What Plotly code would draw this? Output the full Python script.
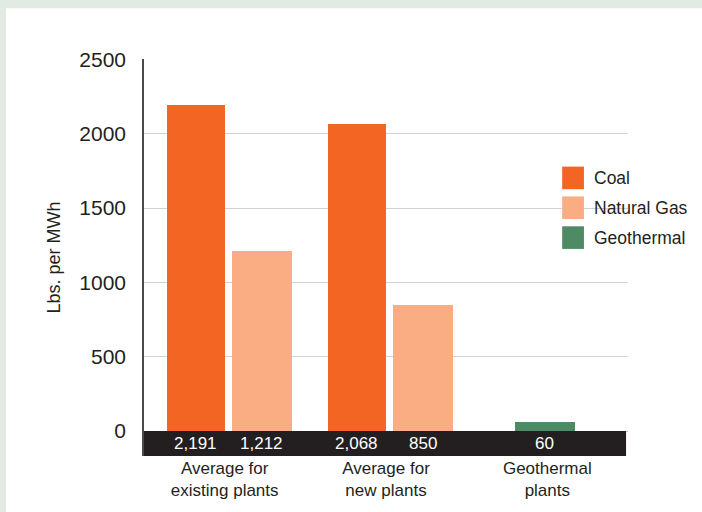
import plotly.graph_objects as go

categories = ["Average for<br>existing plants", "Average for<br>new plants", "Geothermal<br>plants"]
series_names = ["Coal", "Natural Gas", "Geothermal"]
coal = [2191, 2068, None]
natural_gas = [1212, 850, None]
geothermal = [None, None, 60]
y_ticks = [0, 500, 1000, 1500, 2000, 2500]

colors = ["#F26522", "#FAAC82", "#4E8A63"]
series_values = [coal, natural_gas, geothermal]
offsets = [-0.36, 0.045, -0.2]
widths = [0.36, 0.37, 0.37]

FONT = "Liberation Sans, Arial, sans-serif"
TXT = "#231F20"
BAND = "#231F20"
BAND_DEPTH = 168

fig = go.Figure()
for name, vals, col, off, w in zip(series_names, series_values, colors, offsets, widths):
    fig.add_trace(go.Bar(
        x=list(range(len(categories))), y=vals, name=name,
        marker=dict(color=col, line=dict(width=0)),
        offset=off, width=w, showlegend=False, hoverinfo="skip",
    ))

shapes = []
annotations = []
# outer frame: white panel over light green-gray page
shapes.append(dict(type="rect", xref="paper", yref="paper",
                   x0=-0.285, x1=1.2, y0=-0.2, y1=1.128,
                   fillcolor="white", line=dict(width=0), layer="below"))
# black value band under the zero line
shapes.append(dict(type="rect", xref="paper", yref="y",
                   x0=0, x1=0.996, y0=-BAND_DEPTH, y1=0,
                   fillcolor=BAND, line=dict(width=0), layer="above"))

# value labels inside the band
for vals, off, w in zip(series_values, offsets, widths):
    for i, v in enumerate(vals):
        if v is None:
            continue
        annotations.append(dict(x=i + off + w / 2, y=-BAND_DEPTH / 2, xref="x", yref="y",
                                text=f"{v:,}", showarrow=False,
                                font=dict(family=FONT, size=17, color="white"),
                                xanchor="center", yanchor="middle"))

# legend drawn as swatches + labels
leg_top = 0.729
leg_step = 0.0752
sw_h = 0.057
for k, (name, col) in enumerate(zip(series_names, colors)):
    yt = leg_top - k * leg_step
    shapes.append(dict(type="rect", xref="paper", yref="paper",
                       x0=0.864, x1=0.909, y0=yt - sw_h, y1=yt,
                       fillcolor=col, line=dict(width=0)))
    annotations.append(dict(x=0.925, y=yt - sw_h / 2, xref="paper", yref="paper",
                            text=name, showarrow=False, xanchor="left", yanchor="middle",
                            font=dict(family=FONT, size=17.5, color=TXT)))

fig.update_layout(
    width=702, height=512,
    margin=dict(l=144, r=74, t=59, b=52),
    paper_bgcolor="#E2EBE3",
    plot_bgcolor="white",
    bargap=0,
    showlegend=False,
    shapes=shapes,
    annotations=annotations,
    font=dict(family=FONT, color=TXT),
)
fig.update_xaxes(
    range=[-0.5, 2.5],
    tickmode="array", tickvals=list(range(len(categories))), ticktext=categories,
    tickfont=dict(family=FONT, size=17, color=TXT),
    showgrid=False, zeroline=False, showline=False, ticks="",
)
fig.update_yaxes(
    range=[-BAND_DEPTH, 2503],
    tickmode="array", tickvals=y_ticks, ticktext=[str(t) for t in y_ticks],
    tickfont=dict(family=FONT, size=21, color=TXT),
    showgrid=True, gridcolor="#D2D2D2", gridwidth=1,
    zeroline=False, showline=True, linecolor="#4A4A4A", linewidth=1.5,
    ticks="", ticklabelstandoff=12,
    title=dict(text="Lbs. per MWh", font=dict(family=FONT, size=18, color=TXT), standoff=14),
)

fig.write_html("out.html",
               config={"displayModeBar": False},
               post_script="document.body.style.margin='0px';document.body.style.padding='0px';"
                           "document.body.style.background='#E2EBE3';")
